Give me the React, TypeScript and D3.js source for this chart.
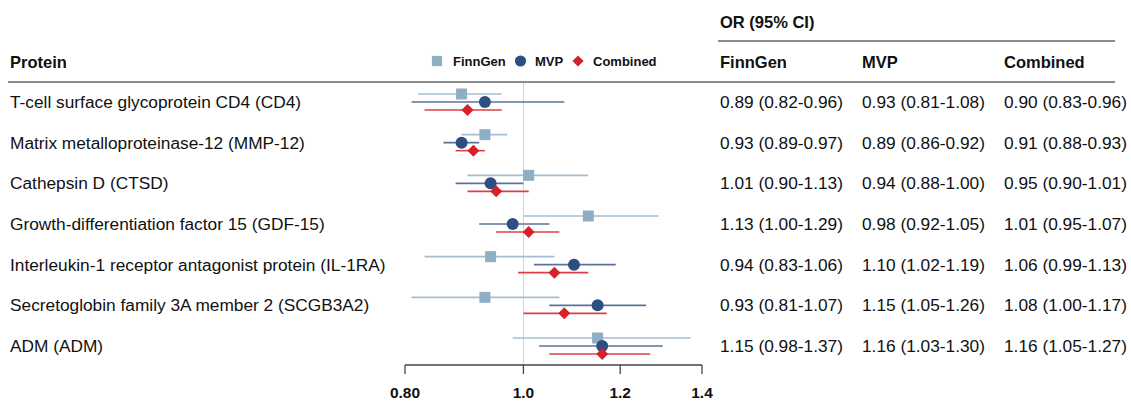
import React from "react";
import * as d3 from "d3";

const width = 1131;
const height = 401;

const proteins = [
  "T-cell surface glycoprotein CD4 (CD4)",
  "Matrix metalloproteinase-12 (MMP-12)",
  "Cathepsin D (CTSD)",
  "Growth-differentiation factor 15 (GDF-15)",
  "Interleukin-1 receptor antagonist protein (IL-1RA)",
  "Secretoglobin family 3A member 2 (SCGB3A2)",
  "ADM (ADM)",
];

// odds ratios with 95% CI, per cohort
const finngen = [
  [0.89, 0.82, 0.96],
  [0.93, 0.89, 0.97],
  [1.01, 0.9, 1.13],
  [1.13, 1.0, 1.29],
  [0.94, 0.83, 1.06],
  [0.93, 0.81, 1.07],
  [1.15, 0.98, 1.37],
];
const mvp = [
  [0.93, 0.81, 1.08],
  [0.89, 0.86, 0.92],
  [0.94, 0.88, 1.0],
  [0.98, 0.92, 1.05],
  [1.1, 1.02, 1.19],
  [1.15, 1.05, 1.26],
  [1.16, 1.03, 1.3],
];
const combined = [
  [0.9, 0.83, 0.96],
  [0.91, 0.88, 0.93],
  [0.95, 0.9, 1.01],
  [1.01, 0.95, 1.07],
  [1.06, 0.99, 1.13],
  [1.08, 1.0, 1.17],
  [1.16, 1.05, 1.27],
];

const tickValues = [0.8, 1.0, 1.2, 1.4];
const tickLabels = ["0.80", "1.0", "1.2", "1.4"];

const series = [
  { name: "FinnGen", data: finngen, shape: "square", fill: "#8daec3", line: "#a6bdcf", dy: -8 },
  { name: "MVP", data: mvp, shape: "circle", fill: "#2d4e80", line: "#5b7398", dy: 0 },
  { name: "Combined", data: combined, shape: "diamond", fill: "#d6202a", line: "#e03e45", dy: 8 },
];

const fmt = (d: number[]) => `${d[0].toFixed(2)} (${d[1].toFixed(2)}-${d[2].toFixed(2)})`;

const font = "'Liberation Sans', Arial, sans-serif";

const Marker = ({ shape, x, y, fill, size = 1 }: { shape: string; x: number; y: number; fill: string; size?: number }) => {
  if (shape === "square") {
    const h = 5.5 * size;
    return <rect x={x - h} y={y - h} width={2 * h} height={2 * h} fill={fill} />;
  }
  if (shape === "circle") return <circle cx={x} cy={y} r={6 * size} fill={fill} />;
  const h = 6 * size;
  return <path d={`M${x},${y - h}L${x + h},${y}L${x},${y + h}L${x - h},${y}Z`} fill={fill} />;
};

const App = () => {
  const x = d3.scaleLog().domain([0.8, 1.4]).range([405, 702]);
  const y = d3
    .scalePoint<number>()
    .domain(d3.range(proteins.length))
    .range([102, 346]);
  const axisY = 365;
  const cols = [720, 862, 1004];
  const legendPos = [
    { lx: 437, tx: 453 },
    { lx: 520.5, tx: 535 },
    { lx: 578, tx: 593 },
  ];

  return (
    <svg width={width} height={height} style={{ position: "absolute", left: 0, top: 0 }} fontFamily={font}>
      <rect width={width} height={height} fill="#fff" />
      {/* header */}
      <text x={720} y={28} fontSize={16.5} fontWeight="bold" fill="#111">OR (95% CI)</text>
      <line x1={718} x2={1115} y1={41} y2={41} stroke="#666" strokeWidth={1.5} />
      <text x={10} y={68} fontSize={16.5} fontWeight="bold" fill="#111">Protein</text>
      {series.map((s, i) => (
        <text key={s.name} x={cols[i]} y={68} fontSize={16.5} fontWeight="bold" fill="#111">{s.name}</text>
      ))}
      <line x1={8} x2={1115} y1={82} y2={82} stroke="#666" strokeWidth={1.5} />

      {/* legend */}
      {legendPos.map((p, i) => (
        <g key={i}>
          <Marker shape={series[i].shape} x={p.lx} y={61} fill={series[i].fill} size={0.93} />
          <text x={p.tx} y={65.5} fontSize={13} fontWeight="bold" fill="#111">{series[i].name}</text>
        </g>
      ))}

      {/* reference line */}
      <line x1={x(1)} x2={x(1)} y1={83} y2={axisY} stroke="#cfd3d8" strokeWidth={1} />

      {/* rows */}
      {proteins.map((p, i) => (
        <g key={p}>
          <text x={10} y={y(i)! + 6} fontSize={17.3} fill="#111">{p}</text>
          {series.map((s, j) => (
            <text key={s.name} x={cols[j]} y={y(i)! + 6} fontSize={17.3} fill="#111">{fmt(s.data[i])}</text>
          ))}
          {series.map((s) => {
            const d = s.data[i];
            const cy = y(i)! + s.dy;
            return (
              <g key={s.name}>
                <line x1={x(d[1])} x2={x(d[2])} y1={cy} y2={cy} stroke={s.line} strokeWidth={1.6} />
                <Marker shape={s.shape} x={x(d[0])} y={cy} fill={s.fill} />
              </g>
            );
          })}
        </g>
      ))}

      {/* axis */}
      <line x1={x(0.8)} x2={x(1.4)} y1={axisY} y2={axisY} stroke="#444" strokeWidth={1.3} />
      {tickValues.map((t, i) => (
        <g key={t}>
          <line x1={x(t)} x2={x(t)} y1={axisY} y2={axisY + 9} stroke="#444" strokeWidth={1.3} />
          <text x={x(t)} y={398} fontSize={15.5} fontWeight="bold" textAnchor="middle" fill="#111">{tickLabels[i]}</text>
        </g>
      ))}
    </svg>
  );
};

export default App;
